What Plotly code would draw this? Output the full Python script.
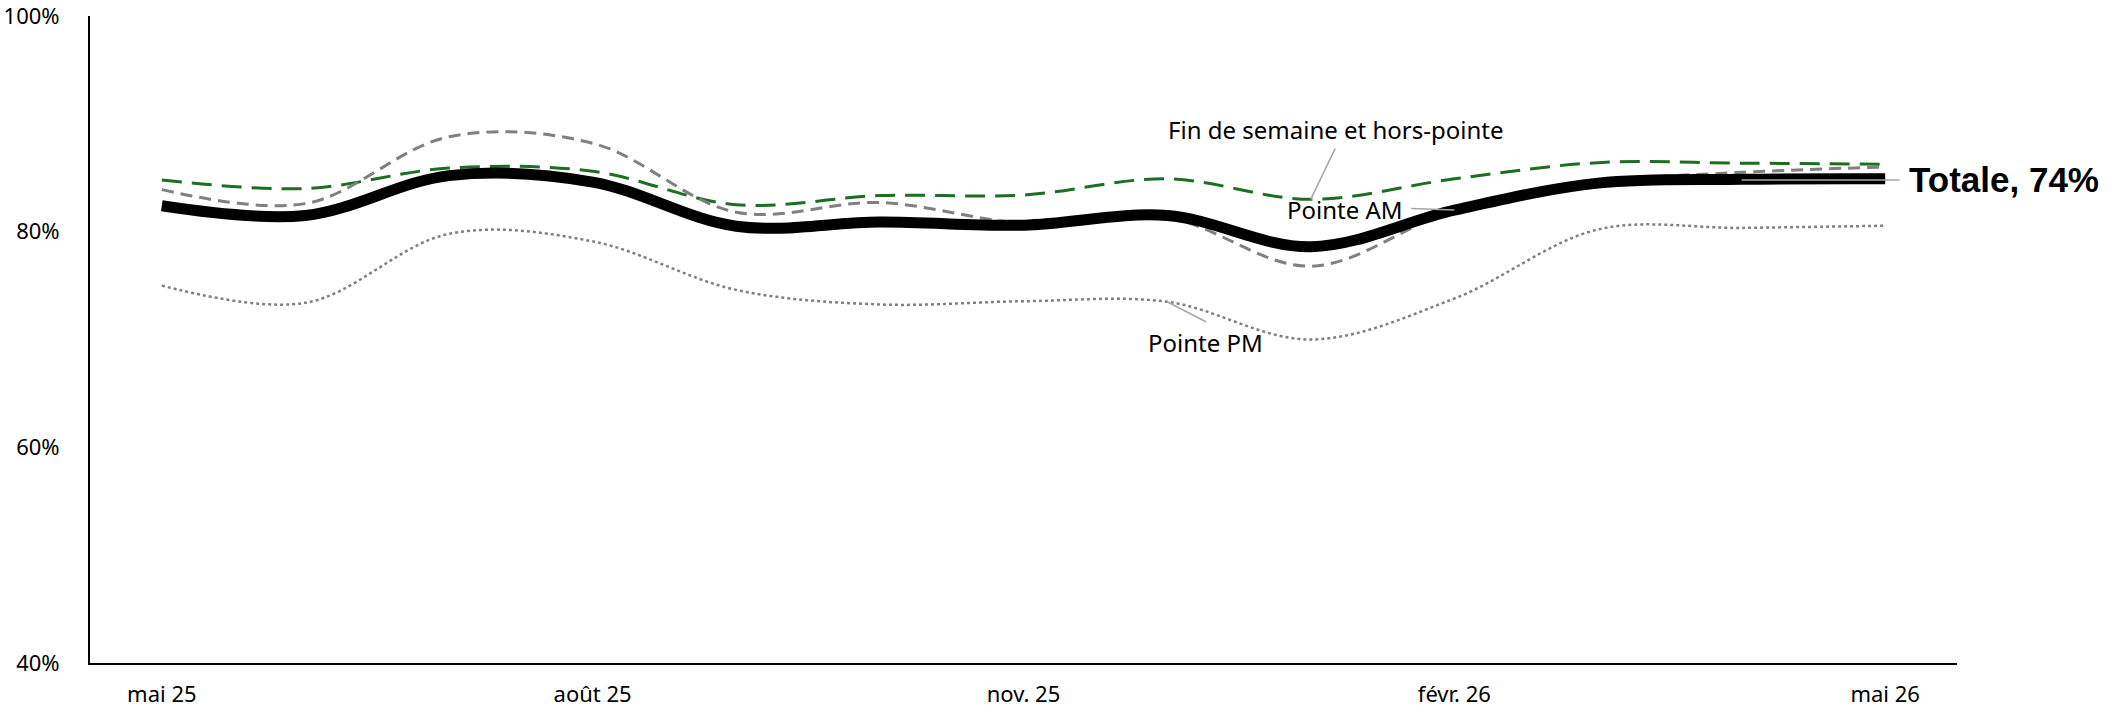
import plotly.graph_objects as go

# Monthly share (%) by period of the day, May 2025 to May 2026
mois = ["mai 25", "juin 25", "juil. 25", "août 25", "sept. 25", "oct. 25", "nov. 25",
        "déc. 25", "janv. 26", "févr. 26", "mars 26", "avr. 26", "mai 26"]
totale = [82.4, 81.5, 85.2, 84.6, 80.5, 80.9, 80.6, 81.5, 78.6, 82.0, 84.5, 84.85, 84.9]
fin_semaine = [84.8, 84.0, 85.9, 85.6, 82.5, 83.35, 83.4, 84.9, 83.0, 84.9, 86.4, 86.35, 86.25]
pointe_am = [83.9, 82.6, 88.8, 88.2, 81.8, 82.7, 80.8, 81.3, 76.8, 82.0, 84.6, 85.5, 86.0]
pointe_pm = [75.0, 73.4, 79.8, 79.1, 74.6, 73.25, 73.55, 73.5, 70.0, 73.8, 80.2, 80.35, 80.55]

tick_pos = [0, 3, 6, 9, 12]
y_ticks = [40, 60, 80, 100]

x = list(range(len(mois)))
fig = go.Figure()

fig.add_trace(go.Scatter(x=x, y=pointe_pm, mode="lines", name="Pointe PM",
                         line=dict(color="#808080", width=2.5, dash="dot", shape="spline", smoothing=1)))
fig.add_trace(go.Scatter(x=x, y=fin_semaine, mode="lines", name="Fin de semaine et hors-pointe",
                         line=dict(color="#1d6e21", width=3, dash="20px,10px", shape="spline", smoothing=1)))
fig.add_trace(go.Scatter(x=x, y=pointe_am, mode="lines", name="Pointe AM",
                         line=dict(color="#808080", width=3, dash="12px,7px", shape="spline", smoothing=1)))
fig.add_trace(go.Scatter(x=x, y=totale, mode="lines", name="Totale",
                         line=dict(color="#000000", width=11, shape="spline", smoothing=1)))

leader = dict(color="#a6a6a6", width=1.5)
jan, feb, dec, apr, last = 8, 9, 7, 11, len(mois) - 1
shapes = [
    # Fin de semaine et hors-pointe
    dict(type="line", x0=jan + 0.17, y0=87.7, x1=jan, y1=fin_semaine[jan], line=leader),
    # Pointe AM
    dict(type="line", x0=jan + 0.70, y0=82.15, x1=feb, y1=pointe_am[feb], line=leader),
    # Pointe PM
    dict(type="line", x0=dec, y0=pointe_pm[dec], x1=dec + 0.27, y1=71.65, line=leader),
    # Totale
    dict(type="line", x0=apr, y0=totale[last] - 0.1, x1=last + 0.1, y1=totale[last] - 0.1, line=leader),
]

label_font = dict(family="Noto Sans", size=24, color="#000000")
annotations = [
    dict(x=jan + 0.17, y=89.5, text="Fin de semaine et hors-pointe", showarrow=False,
         font=label_font, xanchor="center", yanchor="middle"),
    dict(x=jan + 0.24, y=82.05, text="Pointe AM", showarrow=False,
         font=label_font, xanchor="center", yanchor="middle"),
    dict(x=dec + 0.27, y=69.7, text="Pointe PM", showarrow=False,
         font=label_font, xanchor="center", yanchor="middle"),
    dict(x=last + 0.15, y=totale[last] - 0.1, text="<b>Totale, 74%</b>", showarrow=False,
         font=dict(family="Liberation Sans", size=35, color="#000000"),
         xanchor="left", yanchor="middle"),
]

fig.update_layout(
    width=2113, height=712,
    margin=dict(l=90, r=156, t=16, b=49),
    paper_bgcolor="white", plot_bgcolor="white",
    showlegend=False,
    shapes=shapes,
    annotations=annotations,
    font=dict(family="Noto Sans", size=22, color="#000000"),
)
fig.update_xaxes(
    range=[-0.5, len(mois) - 0.5],
    tickmode="array", tickvals=tick_pos, ticktext=[mois[i] for i in tick_pos],
    showgrid=False, zeroline=False, automargin=False, ticklabeloverflow="allow",
    showline=True, linecolor="#000000", linewidth=2,
    ticks="", ticklabelstandoff=11,
)
fig.update_yaxes(
    range=[40, 100],
    tickmode="array", tickvals=y_ticks, ticktext=[f"{v}%" for v in y_ticks],
    showgrid=False, zeroline=False, automargin=False, ticklabeloverflow="allow",
    showline=True, linecolor="#000000", linewidth=2,
    ticks="", ticklabelstandoff=24,
)

fig.write_html("out.html")
